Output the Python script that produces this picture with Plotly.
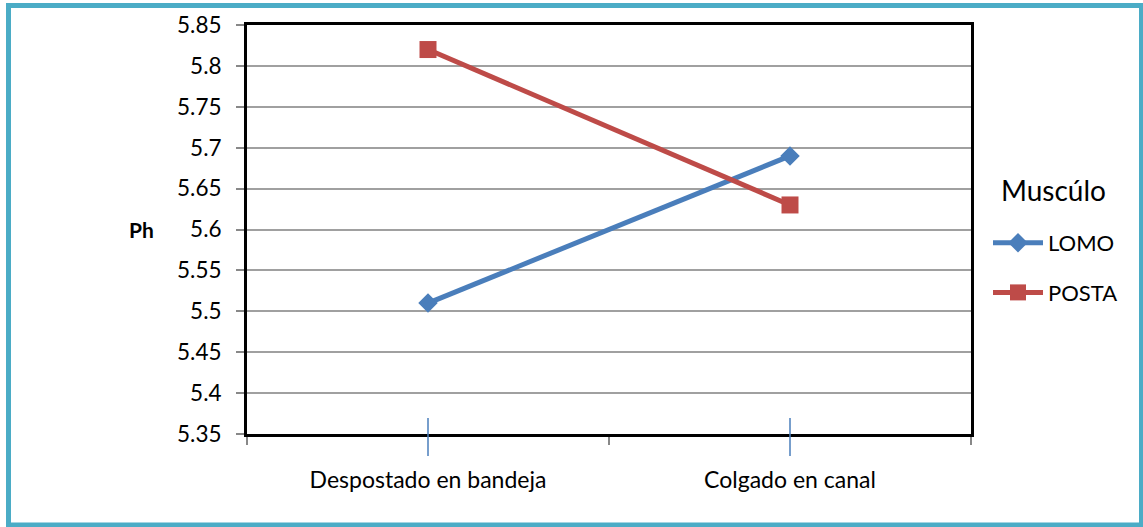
import plotly.graph_objects as go

categories = ["Despostado en bandeja", "Colgado en canal"]
lomo = [5.51, 5.69]
posta = [5.82, 5.63]
y_ticks = [5.35, 5.4, 5.45, 5.5, 5.55, 5.6, 5.65, 5.7, 5.75, 5.8, 5.85]
y_tick_text = ["5.35", "5.4", "5.45", "5.5", "5.55", "5.6", "5.65", "5.7", "5.75", "5.8", "5.85"]
legend_title = "Muscúlo"

W, H = 1143, 527
L, R, T, B = 247, 172, 25, 93
PW, PH = W - L - R, H - T - B

def px_x(px):
    return (px - L) / PW

def px_y(py):
    return (H - B - py) / PH

FONT = "Lato, 'Open Sans', sans-serif"

fig = go.Figure()
fig.add_trace(go.Scatter(
    x=categories, y=lomo, name="LOMO", mode="lines+markers", legendgroup="a",
    line=dict(color="#4A7EBB", width=5),
    marker=dict(symbol="diamond", size=15, color="#4A7EBB"),
))
fig.add_trace(go.Scatter(
    x=categories, y=posta, name="POSTA", mode="lines+markers", legendgroup="b",
    line=dict(color="#BE4B48", width=5),
    marker=dict(symbol="square", size=17, color="#BE4B48"),
))

shapes = []
# blue category markers crossing the x axis
for c in categories:
    shapes.append(dict(type="line", xref="x", yref="paper", x0=c, x1=c,
                       y0=px_y(456), y1=px_y(418),
                       line=dict(color="#4A7EBB", width=1.5)))
# outer frame
shapes.append(dict(type="rect", xref="paper", yref="paper",
                   x0=px_x(8.5), x1=px_x(1141.5), y0=px_y(525), y1=px_y(5.5),
                   line=dict(color="#4BACC6", width=5), layer="below"))

fig.update_layout(
    width=W, height=H,
    margin=dict(l=L, r=R, t=T, b=B),
    paper_bgcolor="white", plot_bgcolor="white",
    font=dict(family=FONT, size=22, color="black"),
    shapes=shapes,
    showlegend=True,
    legend=dict(
        font=dict(size=22, family=FONT),
        x=px_x(988), y=px_y(222), xanchor="left", yanchor="top",
        bgcolor="rgba(0,0,0,0)", itemwidth=50, tracegroupgap=18,
    ),
    annotations=[
        dict(text="<b>Ph</b>", xref="paper", yref="paper",
             x=px_x(127), y=px_y(229), xanchor="left", yanchor="middle",
             showarrow=False, font=dict(size=21, family=FONT)),
        dict(text=legend_title, xref="paper", yref="paper",
             x=px_x(999), y=px_y(190), xanchor="left", yanchor="middle",
             showarrow=False, font=dict(size=28, family=FONT)),
    ],
    xaxis=dict(
        type="category", range=[-0.5, 1.5],
        showline=True, linecolor="black", linewidth=3, mirror=True,
        showgrid=False, zeroline=False,
        ticks="outside", tickson="boundaries", ticklen=8, tickcolor="#888888",
        tickwidth=2, tickfont=dict(size=23, family=FONT), ticklabelstandoff=23,
    ),
    yaxis=dict(
        range=[5.35, 5.85], tickvals=y_ticks, ticktext=y_tick_text,
        showline=True, linecolor="black", linewidth=3, mirror=True,
        showgrid=True, gridcolor="#A0A0A0", gridwidth=1.5, zeroline=False,
        ticks="outside", ticklen=8, tickcolor="#888888", tickwidth=2,
        tickfont=dict(size=22.5, family=FONT), ticklabelstandoff=10,
    ),
)

fig.write_html("out.html")
